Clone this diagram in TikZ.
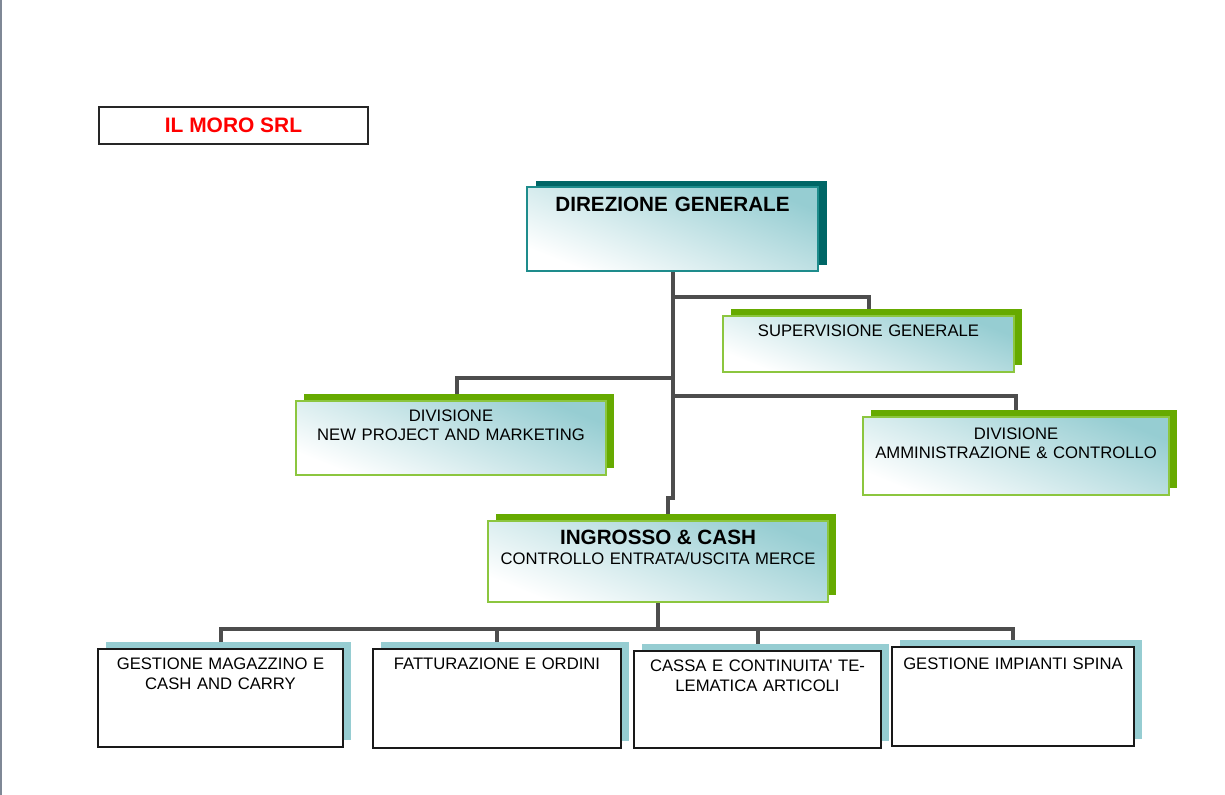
\documentclass[tikz,border=0pt]{standalone}
\usepackage{fontspec}
\setmainfont{Liberation Sans}
\usetikzlibrary{shadows,backgrounds}

\definecolor{linkgray}{RGB}{77,77,77}
\definecolor{tealedge}{RGB}{30,140,140}
\definecolor{tealshade}{RGB}{0,102,102}
\definecolor{greenedge}{RGB}{140,198,63}
\definecolor{greenshade}{RGB}{102,170,0}
\definecolor{lightteal}{RGB}{150,205,210}
\definecolor{pagegray}{RGB}{127,136,150}

\tikzset{
  link/.style={draw=linkgray, line width=3pt},
  unit/.style={inner sep=0pt, align=center, top color=lightteal, bottom color=white,
    shading angle=-22, font=\fontsize{12.5}{14.25}\selectfont},
  headbox/.style={unit, draw=tealedge, line width=1.5pt,
    drop shadow={shadow xshift=6.5pt, shadow yshift=4.75pt, fill=tealshade, opacity=1}},
  divbox/.style={unit, draw=greenedge, line width=1.2pt,
    drop shadow={shadow xshift=6pt, shadow yshift=5.25pt, fill=greenshade, opacity=1}},
  taskbox/.style={inner sep=0pt, align=center, fill=white, draw=black!90, line width=1.5pt,
    text height=15pt, font=\fontsize{12.5}{15}\selectfont,
    drop shadow={shadow xshift=6pt, shadow yshift=5.25pt, fill=lightteal, opacity=1}},
}

\begin{document}
\begin{tikzpicture}[x=0.75pt, y=-0.75pt]
    \useasboundingbox (0,0) rectangle (1225,795);

    % 1. Page edge and company title
    \draw[pagegray, line width=1.5pt] (1,0) -- (1,795);
    \node[draw=black!85, line width=1.5pt, minimum width=201.75pt, minimum height=27.75pt,
      inner sep=0pt, text=red, font=\fontsize{15.7}{18}\selectfont\bfseries]
      (title) at (233.5,125.5) {IL MORO SRL};

    % 2. Management and divisions
    \node[headbox, text width=218pt, text height=18.4pt, text depth=44.6pt,
      font=\fontsize{15.5}{18}\selectfont\bfseries] (dg) at (672.5,229) {DIREZIONE GENERALE};
    \node[divbox, text width=218pt, text height=15pt, text depth=27pt]
      (sup) at (868.5,344) {SUPERVISIONE GENERALE};
    \node[divbox, text width=232.5pt, text height=15pt, text depth=40.5pt]
      (npm) at (451,438) {DIVISIONE\\NEW PROJECT AND MARKETING};
    \node[divbox, text width=229.5pt, text height=16.5pt, text depth=42pt]
      (adc) at (1016,456) {DIVISIONE\\AMMINISTRAZIONE \& CONTROLLO};
    \node[divbox, text width=255pt, text height=17.5pt, text depth=43.25pt]
      (ing) at (658,561.5) {{\fontsize{15.5}{18}\selectfont\bfseries INGROSSO \& CASH}\\[0.5pt]CONTROLLO ENTRATA/USCITA MERCE};

    % 3. Operational tasks
    \node[taskbox, text width=183.75pt, text depth=58.5pt]
      (b1) at (220.5,698) {GESTIONE MAGAZZINO E\\CASH AND CARRY};
    \node[taskbox, text width=186pt, text depth=59.25pt]
      (b2) at (497,698.5) {FATTURAZIONE E ORDINI};
    \node[taskbox, text width=185.25pt, text depth=57.75pt]
      (b3) at (757.5,699.5) {CASSA E CONTINUITA\textquotesingle{} TE-\\LEMATICA ARTICOLI};
    \node[taskbox, text width=181.5pt, text height=16.5pt, text depth=57.75pt]
      (b4) at (1013,696.5) {GESTIONE IMPIANTI SPINA};

    % 4. Connectors (behind the boxes)
    \begin{scope}[on background layer]
        \draw[link] (dg.south) -- ++(0,226) -| ([xshift=7.5pt]ing.north);
        \draw[link] (dg.south) ++(0,25) -| (sup.north);
        \draw[link] (dg.south) ++(0,106) -| ([xshift=4.5pt]npm.north);
        \draw[link] (dg.south) ++(0,124) -| (adc.north);
        \draw[link] (ing.south) -- ++(0,26) coordinate (bus);
        \foreach \task in {b1,b2,b3,b4}
            \draw[link] (bus) -| (\task.north);
    \end{scope}

\end{tikzpicture}
\end{document}
